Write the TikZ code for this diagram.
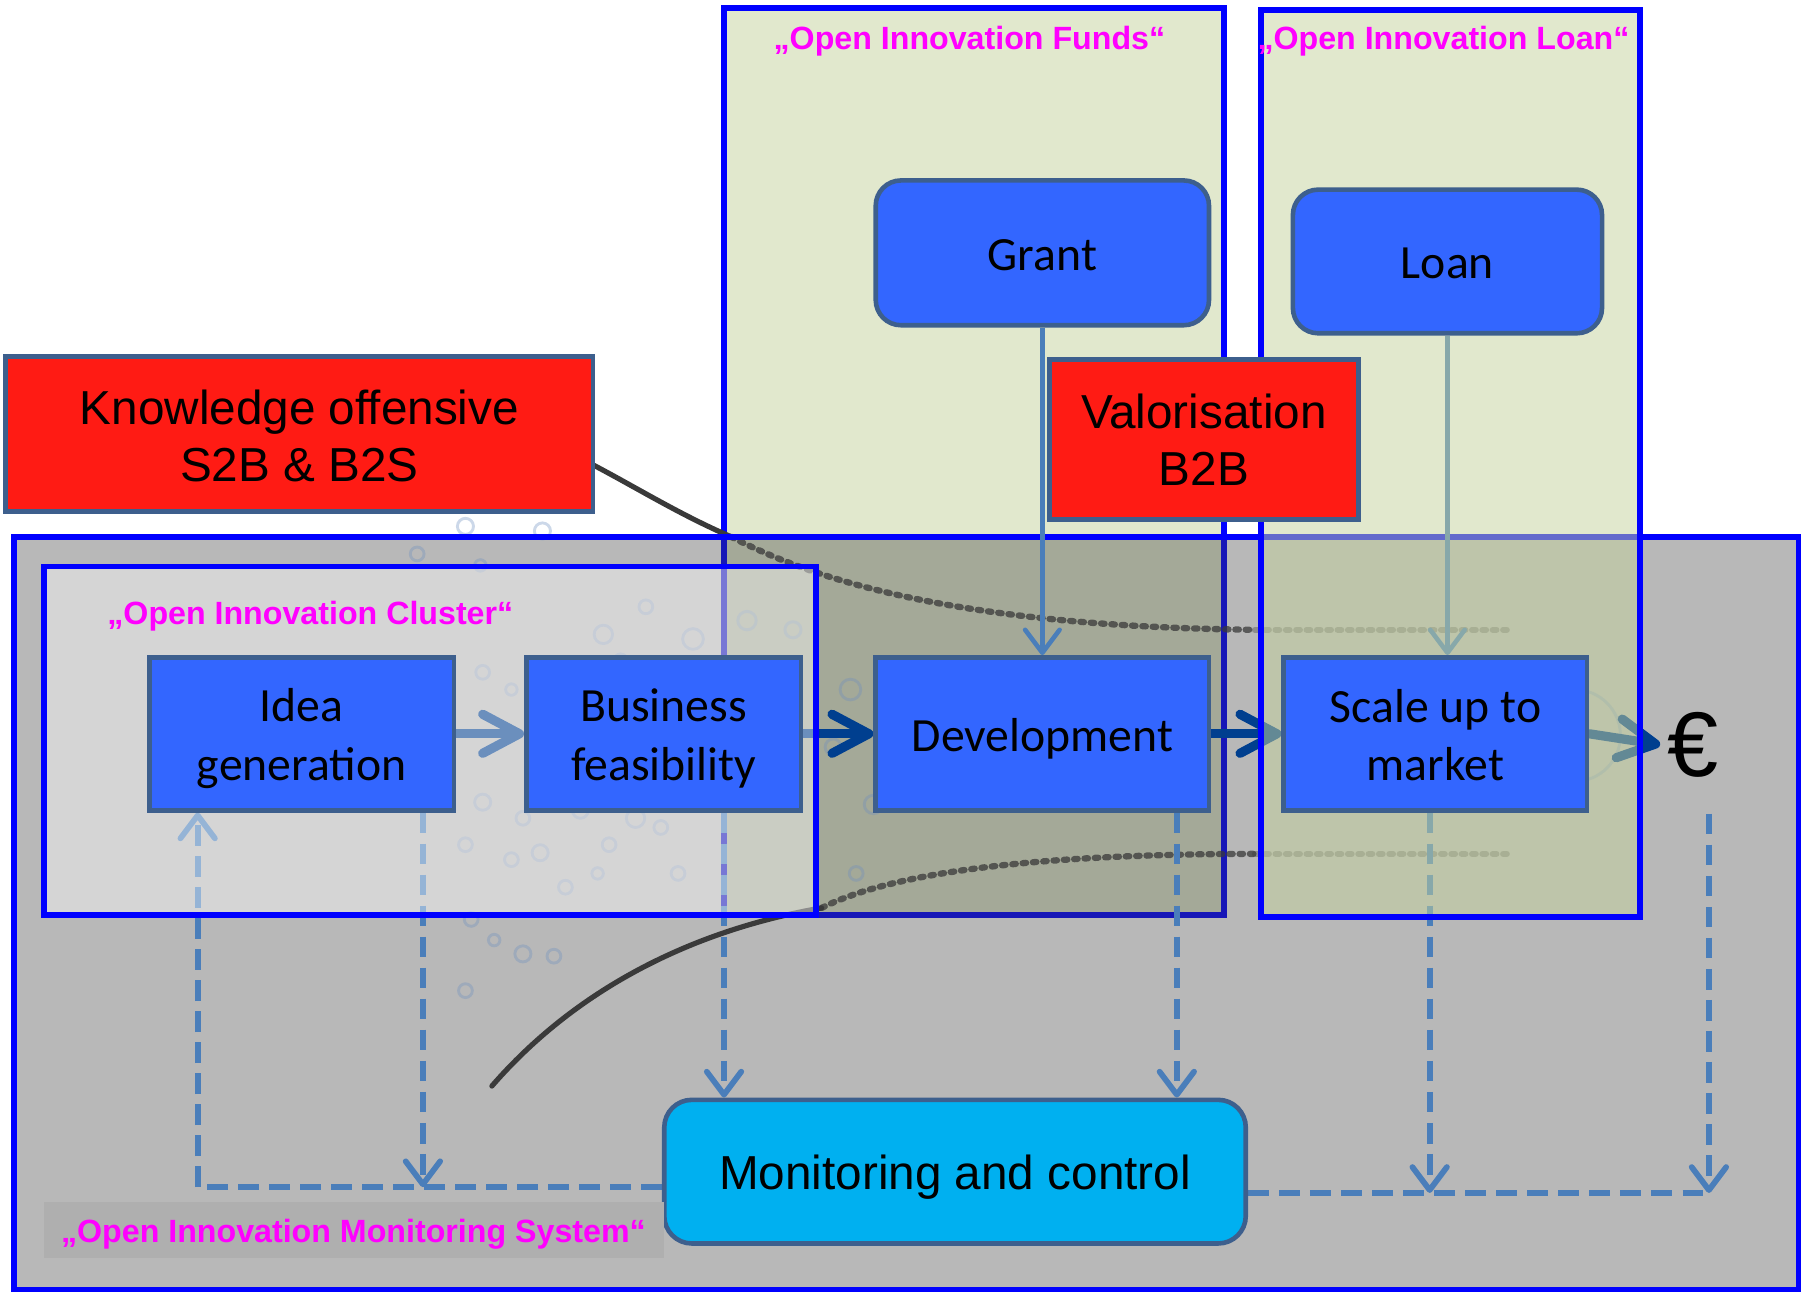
\documentclass[tikz,border=0pt]{standalone}
\usepackage{fontspec}
\setmainfont{Liberation Sans}
\newfontfamily\calfont{Carlito}
\usetikzlibrary{arrows.meta}
\pgfdeclarelayer{back}
\pgfdeclarelayer{connl}
\pgfdeclarelayer{over}
\pgfsetlayers{back,connl,over,main}
\definecolor{oiblue}{HTML}{0000FF}
\definecolor{boxfill}{HTML}{3366FF}
\definecolor{boxline}{HTML}{3D5F8D}
\definecolor{redfill}{HTML}{FF1B14}
\definecolor{cyanfill}{HTML}{00B0F0}
\definecolor{mag}{HTML}{FF00FF}
\definecolor{conn}{HTML}{4A7EBA}
\definecolor{navy}{HTML}{003F8F}
\definecolor{greenbg}{HTML}{E1E8CD}
\definecolor{loanfill}{RGB}{196,210,156}
\definecolor{grayink}{RGB}{62,62,62}
\definecolor{graylab}{HTML}{AFAFAF}
\definecolor{bubble}{HTML}{6E8FBF}
\definecolor{funnel}{HTML}{3A3A3A}
\tikzset{
  pbox/.style={draw=boxline, line width=4pt, fill=boxfill, inner sep=0pt},
  fbox/.style={pbox, rounded corners=22pt},
  rbox/.style={draw=boxline, line width=4pt, fill=redfill, inner sep=0pt},
  mbox/.style={draw=boxline, line width=4pt, fill=cyanfill, inner sep=0pt, rounded corners=24pt},
  ptext/.style={inner sep=0pt, align=center, font=\calfont\fontsize{41.5}{51}\selectfont},
  atext/.style={inner sep=0pt, align=center, font=\fontsize{41.5}{50}\selectfont},
  titlelab/.style={text=mag, inner sep=0pt, font=\bfseries\fontsize{28}{32}\selectfont},
  frame/.style={draw=oiblue, line width=5pt},
  bigarrow/.style={draw=navy, line width=8pt, line cap=round,
    -{Straight Barb[length=32pt,width=34pt,round]}},
  thinarrow/.style={draw=conn, line width=4pt,
    -{Straight Barb[length=20pt,width=30pt,round]}},
  dashline/.style={draw=conn, line width=5pt, dash pattern=on 18pt off 9pt},
  dasharrow/.style={dashline, -{Straight Barb[length=20pt,width=30pt,round]}},
  bub/.style={draw=bubble, line width=2.5pt, draw opacity=0.35},
  dots/.style={draw=funnel, line width=5.5pt, line cap=round, dash pattern=on 3pt off 6pt},
}
\begin{document}
\begin{tikzpicture}[x=1pt,y=-1pt]
\useasboundingbox (0,0) rectangle (1568,1125);

% ---------- boxes ----------
\node[rbox, minimum width=511pt, minimum height=135pt] (know) at (260.5,377.5) {};
\node[atext] (know-t) at ([yshift=-2pt]know.center) {Knowledge offensive\\S2B \& B2S};
\node[rbox, minimum width=269pt, minimum height=139pt] (valo) at (1047.5,382.5) {};
\node[atext] (valo-t) at (valo.center) {Valorisation\\B2B};
\node[fbox, minimum width=290pt, minimum height=126pt] (grant) at (907,220) {};
\node[ptext] (grant-t) at ([yshift=-2pt]grant.center) {Grant};
\node[fbox, minimum width=269pt, minimum height=125pt] (loan) at (1259.5,227.5) {};
\node[ptext] (loan-t) at ([yshift=-2pt]loan.center) {Loan};
\node[pbox, minimum width=265pt, minimum height=133pt] (idea) at (262.5,638.5) {};
\node[ptext] (idea-t) at ([yshift=-4pt]idea.center) {Idea\\generation};
\node[pbox, minimum width=239pt, minimum height=133pt] (bus) at (577.5,638.5) {};
\node[ptext] (bus-t) at ([yshift=-4pt]bus.center) {Business\\feasibility};
\node[pbox, minimum width=290pt, minimum height=133pt] (dev) at (907,638.5) {};
\node[ptext] (dev-t) at ([yshift=-4pt]dev.center) {Development};
\node[pbox, minimum width=264pt, minimum height=133pt] (scale) at (1249,638.5) {};
\node[ptext] (scale-t) at ([yshift=-1pt]scale.center) {Scale up to\\market};
\node[mbox, minimum width=506pt, minimum height=125pt] (mon) at (831,1019.5) {};
\node[atext] (mon-t) at ([yshift=-5pt]mon.center) {Monitoring and control};
\node[inner sep=0pt, inner xsep=6pt, font=\fontsize{80}{80}\selectfont] (euro) at (1473,648) {€};

\node[titlelab] (tfunds) at (843.5,36) {„Open Innovation Funds“};
\node[titlelab] (tloan) at (1256,36) {„Open Innovation Loan“};
\node[titlelab] (tclus) at (270,536) {„Open Innovation Cluster“};
\node[fill=graylab, minimum width=540pt, minimum height=49pt, inner sep=0pt] (tmon-bg) at (308,1070.5) {};
\node[titlelab] (tmon) at (307.5,1074) {„Open Innovation Monitoring System“};

% helper coordinates
\coordinate (x172) at (172,0);
\coordinate (x368) at (368,0);
\coordinate (x630) at (630,0);
\coordinate (x1024) at (1024,0);
\coordinate (x1244) at (1244,0);
\coordinate (jl) at (172,1033);
\coordinate (jl2) at (368,1033);
\coordinate (jr) at (1244,1038);
\coordinate (jr2) at (1487,1038);
\coordinate (eurodrop) at (1487,708);

% ---------- background ----------
\begin{pgfonlayer}{back}
  \fill[greenbg] (630,7) rectangle (1065,796);
  \draw[frame] (630,7) rectangle (1065,796);
  \fill[grayink, fill opacity=0.367] (12,467) rectangle (1565,1122);
  % funnel curves
  \draw[funnel, line width=4.5pt, line cap=round] (517,405) .. controls (555,425) and (592,448) .. (636,467);
  \draw[dots, draw opacity=0.75] (636,467) .. controls (700,500) and (820,545) .. (1092,548);
  \draw[dots, draw opacity=0.35] (1092,548) -- (1312,548);
  \draw[funnel, line width=4.5pt, line cap=round] (428,945) .. controls (500,862) and (600,810) .. (715,790);
  \draw[dots, draw opacity=0.75] (715,790) .. controls (790,752) and (950,743) .. (1092,743);
  \draw[dots, draw opacity=0.35] (1092,743) -- (1312,743);
  % bubbles
  \foreach \bx/\by/\br in {405/458/7, 472/462/7, 363/482/6, 418/492/5, 525/552/8, 603/556/9,
     650/540/8, 562/528/6, 690/548/7, 540/575/6, 420/585/6, 445/600/5, 420/698/7, 455/712/6,
     505/705/7, 530/735/6, 553/712/8, 575/720/6, 405/735/6, 445/748/6, 470/742/7, 492/772/6,
     520/760/5, 590/760/6, 410/800/6, 430/818/5, 455/830/7, 482/832/6, 405/862/6, 740/600/9,
     725/650/7, 760/700/8, 745/760/6, 1370/640/40}
     \draw[bub] (\bx,\by) circle[radius=\br pt];
  \draw[frame] (12,467) rectangle (1565,1122);
\end{pgfonlayer}

% ---------- connectors ----------
\begin{pgfonlayer}{connl}
  \draw[bigarrow] (idea.east) -- (bus.west);
  \draw[bigarrow] (bus.east) -- (dev.west);
  \draw[bigarrow] (dev.east) -- (scale.west);
  \draw[bigarrow] (scale.east) -- (euro.west);
  \draw[thinarrow] (grant.south) -- (dev.north);
  \draw[thinarrow] (loan.south) -- (loan.south |- scale.north);
  \draw[dashline] (mon.west |- jl) -- (jl);
  \draw[dasharrow] (jl) -- (idea.south -| x172);
  \draw[dasharrow] (idea.south -| x368) -- (jl2);
  \draw[dasharrow] (bus.south -| x630) -- (mon.north -| x630);
  \draw[dasharrow] (dev.south -| x1024) -- (mon.north -| x1024);
  \draw[dasharrow] (scale.south -| x1244) -- (jr);
  \draw[dasharrow] (eurodrop) -- (jr2);
  \draw[dashline] (mon.east |- jr) -- (jr2);
\end{pgfonlayer}

% ---------- translucent frames ----------
\begin{pgfonlayer}{over}
  \draw[frame, fill=white, fill opacity=0.42] (38,493) rectangle (710,796);
  \draw[frame, fill=loanfill, fill opacity=0.507] (1097,9) rectangle (1427,798);
\end{pgfonlayer}
\end{tikzpicture}
\end{document}
